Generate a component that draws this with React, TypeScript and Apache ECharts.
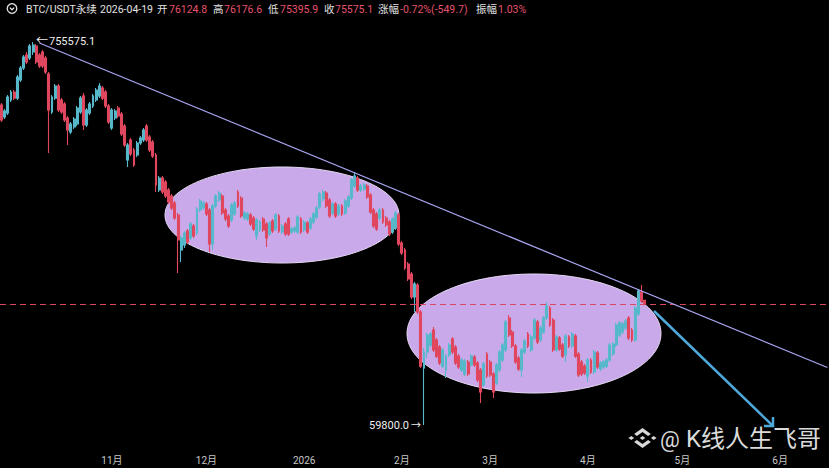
import React, { useEffect, useRef } from "react";
import * as echarts from "echarts";

// ---------- data ----------
const START_DATE_UTC = [2025, 8, 27]; // 2025-09-27
const DAY_COUNT = 263; // through 2026-06-16

const monthTicks = ["2025-11-01", "2025-12-01", "2026-01-01", "2026-02-01", "2026-03-01", "2026-04-01", "2026-05-01", "2026-06-01"];
const monthTickLabels = ["11月", "12月", "2026", "2月", "3月", "4月", "5月", "6月"];

const opens = [
  111070, 108510, 109360, 112150, 113900, 112570, 116580, 119310, 122360, 121640,
  123070, 124500, 122360, 123070, 121640, 117940, 109570, 112570, 115230, 112150,
  111280, 108300, 105420, 106430, 107050, 109570, 113010, 106850, 109360, 110850,
  112150, 113010, 114780, 113900, 110850, 106240, 108300, 110410, 109150, 106640,
  99860, 103800, 101810, 100830, 103200, 103800, 106640, 104400, 103400, 100830,
  94230, 96430, 95700, 94230, 93140, 91880, 89780, 83900, 84720, 87040,
  85880, 87890, 86700, 90650, 91000, 91700, 90650, 84880, 91350, 92420,
  93140, 90650, 89600, 88920, 89950, 93870, 92780, 89250, 89090, 89780,
  89250, 86200, 87210, 89090, 88230, 86530, 88750, 87380, 89600, 86870,
  88230, 89090, 86870, 87040, 86870, 89090, 87210, 88400, 87550, 88580,
  89420, 91180, 92600, 93680, 92420, 90130, 91700, 89950, 91350, 90130,
  91350, 92780, 94960, 96430, 94230, 94410, 94960, 93320, 90650, 89950,
  89250, 90650, 89250, 88580, 86870, 87550, 89780, 85050, 83900, 81650,
  80080, 76610, 78400, 74420, 66770, 68870, 69810, 71870, 70490, 69540,
  67020, 66510, 68470, 70630, 69540, 68330, 66510, 66000, 67550, 67160,
  68200, 67420, 66510, 64620, 68600, 67550, 66000, 64860, 66510, 67810,
  69140, 73550, 71590, 69680, 68070, 66510, 68870, 71310, 69140, 70760,
  72990, 70490, 71590, 73550, 75000, 73270, 69140, 70760, 69810, 68470,
  70900, 69680, 71040, 68600, 67550, 67020, 65750, 67810, 66260, 68740,
  66640, 66900, 67020, 67810, 68600, 69810, 71180, 71590, 72150, 73550,
  71870, 70490, 74130, 77350, 76124.8,
];

const closes = [
  107890, 109790, 112790, 113900, 112570, 117250, 119310, 121880, 120710, 124500,
  124750, 120710, 119780, 119780, 118400, 110000, 112790, 115230, 110000, 109570,
  107890, 105830, 107050, 108080, 110410, 112570, 106850, 110000, 111280, 113010,
  114340, 115230, 112570, 110850, 107470, 110000, 109790, 108720, 105010, 102800,
  102800, 101020, 98900, 103200, 104190, 105830, 103800, 101810, 100630, 95140,
  96430, 93870, 93140, 92060, 91000, 89250, 85540, 85880, 86700, 85210,
  88230, 86200, 90820, 92240, 91880, 89950, 84880, 91350, 93140, 93680,
  90130, 89090, 87890, 91530, 91880, 91350, 89600, 90130, 89950, 88230,
  87380, 88920, 88580, 87210, 85880, 88400, 87040, 89780, 87040, 87890,
  86530, 86530, 87380, 87550, 89420, 86870, 88580, 86870, 89090, 89950,
  91000, 93500, 93870, 91350, 89600, 91700, 89600, 91350, 89950, 92240,
  92960, 96070, 96810, 94230, 94960, 95140, 92960, 90300, 87890, 87380,
  90650, 88580, 88060, 86530, 89090, 90130, 84880, 83410, 81020, 79320,
  76610, 78560, 74420, 67020, 68870, 71180, 71310, 69140, 68330, 67420,
  69140, 68330, 69810, 68870, 67420, 66900, 67810, 67680, 66000, 68330,
  67160, 65240, 63740, 67290, 65750, 65880, 63740, 67160, 68870, 69810,
  72990, 71180, 69680, 67550, 66640, 69140, 70350, 69680, 70900, 73270,
  70220, 72150, 73550, 75280, 72560, 69140, 70900, 69270, 68330, 71040,
  69680, 71310, 68330, 65880, 66000, 66130, 67810, 66260, 68870, 66900,
  67420, 67550, 67810, 69810, 69950, 72560, 72840, 72700, 73130, 70760,
  70490, 75000, 77500, 76020, 75575.1,
];

const lows = [
  107470, 108080, 108940, 111720, 112150, 112150, 116130, 118860, 120240, 121180,
  122360, 120240, 119310, 119310, 117940, 101220, 109150, 112150, 109570, 109150,
  107470, 102800, 105010, 106040, 106640, 109150, 105830, 106430, 108940, 110410,
  111720, 112570, 112150, 110410, 107050, 105830, 107890, 108300, 104600, 102390,
  98510, 100630, 98510, 100440, 102800, 103400, 103400, 101420, 100250, 93870,
  93870, 93500, 92780, 91700, 90650, 88920, 80240, 81970, 84220, 84880,
  85540, 85880, 86370, 90300, 90650, 89600, 83580, 83900, 91000, 92060,
  89780, 88750, 87550, 88580, 89600, 91000, 89250, 88920, 88750, 87890,
  87040, 85540, 86870, 86870, 84390, 86200, 86700, 87040, 86700, 86530,
  86200, 86200, 86530, 86700, 86530, 86530, 86870, 86530, 87210, 88230,
  89090, 90820, 92240, 91000, 89250, 89780, 89250, 89600, 89600, 89780,
  91000, 92420, 94600, 93870, 93870, 94050, 92600, 89950, 87550, 87040,
  88920, 88230, 87720, 86200, 86530, 87210, 84550, 83090, 80710, 79020,
  76320, 74420, 74130, 66770, 59800, 68070, 69540, 68870, 68070, 67160,
  66770, 65490, 68200, 68600, 67160, 66640, 66260, 65750, 65750, 66900,
  66900, 64990, 62400, 64360, 65490, 65620, 63000, 64620, 66260, 67550,
  68870, 70900, 69410, 67290, 66380, 65620, 68600, 69410, 68870, 70490,
  69950, 70220, 71310, 73270, 72290, 68870, 68870, 69000, 68070, 67550,
  69410, 69410, 68070, 65620, 65750, 65880, 64990, 66000, 66000, 66640,
  66380, 66640, 66770, 67550, 68330, 69540, 70900, 71310, 71870, 70490,
  70220, 70220, 73840, 75730, 75395.9,
];

const highs = [
  111500, 110200, 113240, 114340, 114340, 117710, 119780, 122360, 123070, 124990,
  125470, 124990, 122830, 123550, 122120, 118400, 113240, 115680, 115680, 112570,
  111720, 108720, 107470, 108510, 110850, 113010, 113680, 110410, 111720, 113460,
  114780, 115910, 115230, 114340, 111280, 110410, 110200, 110850, 109570, 107050,
  103200, 104190, 102200, 103600, 104600, 106240, 107050, 104800, 103800, 101220,
  96810, 96810, 96070, 94600, 93500, 92240, 90130, 86200, 87040, 87380,
  88580, 88230, 91180, 92600, 92240, 92060, 91000, 91700, 93500, 94050,
  93500, 91000, 89950, 91880, 92240, 94230, 93140, 90480, 90300, 90130,
  89600, 89250, 88920, 89420, 88580, 88750, 89090, 90130, 89950, 88230,
  88580, 89420, 87720, 87890, 89780, 89420, 88920, 88750, 89420, 90300,
  91350, 93870, 94230, 94050, 92780, 92060, 92060, 91700, 91700, 92600,
  93320, 96430, 97560, 96810, 95330, 95510, 95330, 93680, 91000, 90300,
  91000, 91000, 89600, 88920, 89420, 90480, 90130, 85380, 84220, 81970,
  80400, 78860, 78710, 74710, 69410, 71450, 71590, 72290, 70760, 69810,
  69410, 68600, 70080, 70900, 69810, 68600, 68070, 67940, 67810, 68600,
  68470, 67680, 66770, 67550, 68870, 67810, 66260, 67420, 69140, 70080,
  73270, 73990, 71870, 69950, 68330, 69410, 70630, 71590, 71180, 73550,
  73270, 72420, 73840, 75880, 75280, 73550, 71180, 71040, 70080, 71310,
  71180, 71590, 71310, 68870, 67810, 67290, 68070, 68070, 69140, 69000,
  67680, 67810, 68070, 70080, 70220, 72840, 73130, 72990, 73410, 73840,
  72150, 75280, 77800, 78400, 76176.6,
];

// trend line anchors (index, price)
const trendStart = [12, 125230];
const trendEnd = [262, 66830];
const lastClose = 75575.1;
const peakLabel = "755575.1";
const lowLabel = "59800.0";

const headerItems = [
  { x: 26, t: "BTC/USDT永续", v: false },
  { x: 100, t: "2026-04-19", v: false },
  { x: 157, t: "开", v: false },
  { x: 169, t: "76124.8", v: true },
  { x: 213, t: "高", v: false },
  { x: 224, t: "76176.6", v: true },
  { x: 268, t: "低", v: false },
  { x: 280, t: "75395.9", v: true },
  { x: 324, t: "收", v: false },
  { x: 335, t: "75575.1", v: true },
  { x: 378, t: "涨幅", v: false },
  { x: 400, t: "-0.72%(-549.7)", v: true },
  { x: 476, t: "振幅", v: false },
  { x: 498, t: "1.03%", v: true },
];

// ---------- helpers ----------
const dates: string[] = [];
{
  const base = Date.UTC(START_DATE_UTC[0], START_DATE_UTC[1], START_DATE_UTC[2]);
  for (let i = 0; i < DAY_COUNT; i++) {
    dates.push(new Date(base + i * 86400000).toISOString().slice(0, 10));
  }
}

const FONT = 'Roboto, "Noto Sans CJK SC", "Noto Sans", sans-serif';
const UP = "#56b8ca";
const DOWN = "#e0475f";

function binanceLogo(cx: number, cy: number, sx: number, sy: number, fill: string) {
  const shapes: number[][][] = [
    [[0, -0.2], [0.2, 0], [0, 0.2], [-0.2, 0]],
    [[-0.8, -0.2], [-0.6, 0], [-0.8, 0.2], [-1, 0]],
    [[0.8, -0.2], [1, 0], [0.8, 0.2], [0.6, 0]],
    [[-0.6, -0.4], [0, -1], [0.6, -0.4], [0.4, -0.2], [0, -0.6], [-0.4, -0.2]],
    [[-0.6, 0.4], [0, 1], [0.6, 0.4], [0.4, 0.2], [0, 0.6], [-0.4, 0.2]],
  ];
  return shapes.map((pts) => ({
    type: "polygon",
    z: 50,
    shape: { points: pts.map(([ux, uy]) => [cx + ux * sx, cy + uy * sy]) },
    style: { fill },
  }));
}

export default function App() {
  const ref = useRef<HTMLDivElement>(null);

  useEffect(() => {
    if (!ref.current) return;
    const chart = echarts.init(ref.current, undefined, { renderer: "svg" });
    const candleData = opens.map((o, i) => [o, closes[i], lows[i], highs[i]]);
    const logMin = 57197;
    const logMax = 136098;

    const graphics: any[] = [
      // ellipses (behind candles)
      {
        type: "ellipse",
        z: 0,
        shape: { cx: 282, cy: 215, rx: 117, ry: 48 },
        style: { fill: "#c9a9e9", stroke: "#e6d9f7", lineWidth: 1 },
      },
      {
        type: "ellipse",
        z: 0,
        shape: { cx: 534, cy: 333.5, rx: 127, ry: 59.5 },
        style: { fill: "#c9a9e9", stroke: "#e6d9f7", lineWidth: 1 },
      },
      // header icon
      {
        type: "circle",
        z: 100,
        shape: { cx: 12, cy: 8.5, r: 4.8 },
        style: { fill: "none", stroke: "#e6e6e6", lineWidth: 1.3 },
      },
      {
        type: "polyline",
        z: 100,
        shape: { points: [[9.8, 7.6], [12, 9.8], [14.2, 7.6]] },
        style: { fill: "none", stroke: "#e6e6e6", lineWidth: 1.3 },
      },
      ...headerItems.map((h) => ({
        type: "text",
        z: 100,
        x: h.x,
        y: 9,
        style: {
          text: h.t,
          fill: h.v ? "#e6536f" : "#e2e2e2",
          font: `10.5px ${FONT}`,
          verticalAlign: "middle",
        },
      })),
      // peak label
      {
        type: "text",
        z: 100,
        x: 36,
        y: 41,
        style: { text: "←", fill: "#eeeeee", font: `12px ${FONT}`, verticalAlign: "middle" },
      },
      {
        type: "text",
        z: 100,
        x: 49,
        y: 41,
        style: { text: peakLabel, fill: "#eeeeee", font: `11px ${FONT}`, verticalAlign: "middle" },
      },
      // low label
      {
        type: "text",
        z: 100,
        x: 369,
        y: 425,
        style: { text: lowLabel, fill: "#eeeeee", font: `11px ${FONT}`, verticalAlign: "middle" },
      },
      {
        type: "text",
        z: 100,
        x: 411,
        y: 425,
        style: { text: "→", fill: "#eeeeee", font: `10px ${FONT}`, verticalAlign: "middle" },
      },
      // blue arrow
      {
        type: "line",
        z: 60,
        shape: { x1: 654, y1: 311, x2: 773, y2: 426 },
        style: { stroke: "#4fa8da", lineWidth: 2.5 },
      },
      {
        type: "polyline",
        z: 60,
        shape: { points: [[764, 426], [773, 426], [773, 417]] },
        style: { fill: "none", stroke: "#4fa8da", lineWidth: 2.5 },
      },
      // watermark
      ...binanceLogo(642.5, 438, 14, 10, "#d8d8d8"),
      {
        type: "text",
        z: 50,
        x: 660,
        y: 439,
        style: { text: "@", fill: "#dadada", font: `22px ${FONT}`, verticalAlign: "middle" },
      },
      {
        type: "text",
        z: 50,
        x: 686,
        y: 439,
        style: { text: "K线人生飞哥", fill: "#dadada", font: `24px ${FONT}`, verticalAlign: "middle" },
      },
    ];

    chart.setOption({
      animation: false,
      backgroundColor: "#000000",
      grid: { left: 0, right: 0, top: 0, bottom: 20, containLabel: false },
      xAxis: {
        type: "category",
        data: dates,
        boundaryGap: true,
        axisLine: { show: false },
        axisTick: { show: false },
        splitLine: { show: false },
        axisLabel: {
          color: "#c8c8c8",
          fontSize: 10,
          fontFamily: FONT,
          margin: 7,
          interval: (_i: number, v: string) => monthTicks.includes(v),
          formatter: (v: string) => {
            const k = monthTicks.indexOf(v);
            return k >= 0 ? monthTickLabels[k] : "";
          },
        },
      },
      yAxis: {
        type: "log",
        logBase: 10,
        min: logMin,
        max: logMax,
        axisLine: { show: false },
        axisTick: { show: false },
        axisLabel: { show: false },
        splitLine: { show: false },
      },
      series: [
        {
          type: "candlestick",
          data: candleData,
          barWidth: 2.4,
          itemStyle: {
            color: UP,
            color0: DOWN,
            borderColor: UP,
            borderColor0: DOWN,
            borderWidth: 1.1,
          },
          markLine: {
            silent: true,
            symbol: ["none", "none"],
            label: { show: false },
            animation: false,
            data: [
              {
                yAxis: lastClose,
                lineStyle: { color: "#d9465d", width: 1.2, type: [6, 4] },
              },
              [
                {
                  coord: [dates[trendStart[0]], trendStart[1]],
                  lineStyle: { color: "#a9a6f2", width: 1.2, type: "solid" },
                },
                { coord: [dates[trendEnd[0]], trendEnd[1]] },
              ],
            ],
          },
        },
      ],
      graphic: { elements: graphics },
    });

    return () => chart.dispose();
  }, []);

  return (
    <div
      ref={ref}
      style={{ position: "absolute", left: 0, top: 0, width: 829, height: 468, background: "#000" }}
    />
  );
}
